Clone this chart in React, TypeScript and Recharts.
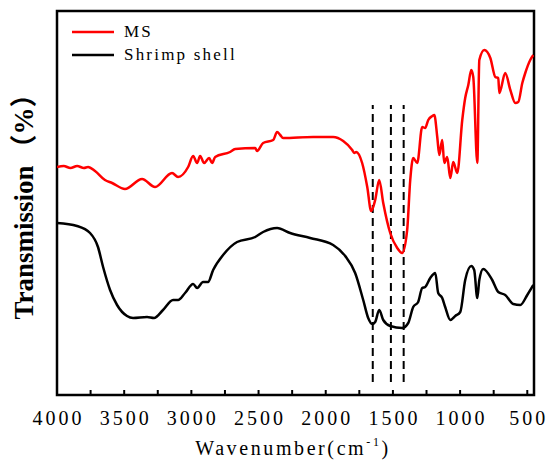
import { LineChart, Line, XAxis, YAxis, ReferenceLine, ReferenceArea, Legend } from 'recharts';

// [wavenumber (cm-1), transmission (arb. units)]
const msSpectrum: [number, number][] = [
  [4000, 228], [3950, 229], [3900, 227], [3850, 229], [3800, 227], [3769, 228],
  [3717, 224], [3643, 215], [3590, 212], [3494, 206], [3367, 216], [3270, 208],
  [3144, 222], [3099, 218], [3024, 228], [2987, 239], [2957, 232], [2935, 239],
  [2905, 232], [2868, 237], [2846, 232], [2823, 238], [2712, 243], [2674, 246],
  [2525, 247], [2511, 244], [2466, 252], [2391, 255], [2362, 263], [2339, 260],
  [2317, 257], [2094, 258], [1945, 258], [1870, 254], [1803, 245], [1788, 242],
  [1773, 243], [1729, 232], [1691, 208], [1662, 184], [1632, 195], [1602, 215],
  [1572, 192], [1520, 162], [1468, 147], [1431, 142], [1394, 165], [1371, 215],
  [1349, 237], [1319, 232], [1282, 268], [1260, 267], [1237, 275], [1207, 279],
  [1192, 280], [1170, 258], [1155, 240], [1133, 255], [1118, 232], [1096, 238],
  [1073, 217], [1051, 233], [1021, 222], [984, 275], [962, 297], [939, 310],
  [917, 325], [902, 318], [872, 232], [857, 335], [820, 345], [775, 337],
  [738, 318], [716, 317], [708, 302], [664, 322], [626, 305], [589, 292],
  [567, 293], [537, 312], [515, 322], [478, 335], [455, 340],
];

const shellSpectrum: [number, number][] = [
  [4000, 172], [3851, 169], [3754, 162], [3695, 148], [3657, 128], [3605, 105],
  [3553, 90], [3479, 79], [3434, 77], [3330, 78], [3278, 77], [3211, 85],
  [3136, 95], [3099, 95], [3047, 102], [2987, 111], [2957, 107], [2913, 113],
  [2876, 113], [2838, 125], [2764, 140], [2660, 153], [2525, 158], [2466, 163],
  [2362, 167], [2265, 162], [2116, 157], [1945, 150], [1855, 139], [1781, 122],
  [1721, 95], [1684, 77], [1654, 71], [1632, 73], [1602, 85], [1572, 75],
  [1520, 69], [1431, 67], [1386, 72], [1349, 88], [1312, 93], [1282, 107],
  [1260, 108], [1222, 117], [1185, 122], [1163, 102], [1133, 97], [1111, 88],
  [1073, 75], [1036, 79], [999, 83], [962, 115], [917, 129], [895, 125],
  [872, 97], [857, 115], [828, 126], [761, 115], [716, 103], [664, 100],
  [604, 91], [552, 90], [500, 100], [455, 110],
];

const markerLines = [1650, 1515, 1420];
const markerRange = [13, 290];

const xTicks = [4000, 3750, 3500, 3250, 3000, 2750, 2500, 2250, 2000, 1750, 1500, 1250, 1000, 750, 500];

const toRows = (s: [number, number][]) => s.map(([wn, t]) => ({ wn, t }));

const SERIF = "Liberation Serif, Times New Roman, DejaVu Serif, serif";
const CJK = "Noto Sans CJK SC, sans-serif";

const WnTick = (props: any) => {
  const { x, y, payload } = props;
  const v = payload.value;
  return (
    <g>
      <line x1={x} x2={x} y1={y} y2={y - 5} stroke="#000" strokeWidth={2} />
      {v % 500 === 0 && (
        <text x={x + 1.5} y={y + 30} textAnchor="middle" style={{ fontFamily: SERIF }} fontSize={20} letterSpacing={3} fill="#000">
          {v}
        </text>
      )}
    </g>
  );
};

// axis titles drawn from the x-axis label slot
const AxisTitles = () => (
  <g>
    <text x={293} y={455} textAnchor="middle" style={{ fontFamily: SERIF }} fontSize={20} letterSpacing={2.6} fill="#000">
      Wavenumber(cm
      <tspan fontSize={12} dy={-9}>-1</tspan>
      <tspan dy={9}>)</tspan>
    </text>
    <text
      x={33}
      y={200}
      transform="rotate(-90 33 200)"
      textAnchor="middle"
      style={{ fontFamily: SERIF }}
      fontWeight="bold"
      fontSize={27}
      fill="#000"
    >
      Transmission
      <tspan dx={4} style={{ fontFamily: CJK }}>（</tspan>%<tspan style={{ fontFamily: CJK }}>）</tspan>
    </text>
  </g>
);

const LegendBox = (props: any) => (
  <div style={{ fontFamily: SERIF, fontSize: 17, letterSpacing: 2.2, color: '#000' }}>
    {(props.payload || []).map((p: any) => (
      <div key={p.value} style={{ display: 'flex', alignItems: 'center', height: 23 }}>
        <svg width={42} height={4}>
          <line x1={0} x2={42} y1={2} y2={2} stroke={p.color} strokeWidth={2.5} />
        </svg>
        <span style={{ marginLeft: 10 }}>{p.value}</span>
      </div>
    ))}
  </div>
);

export default function App() {
  return (
    <div style={{ position: 'absolute', left: 0, top: 0, width: 550, height: 467, background: '#fff' }}>
      <LineChart width={550} height={467} margin={{ top: 11, right: 16, bottom: 42, left: 57 }}>
        <XAxis
          type="number"
          dataKey="wn"
          domain={[450, 4000]}
          reversed
          ticks={xTicks}
          interval={0}
          height={30}
          tickSize={0}
          tickMargin={0}
          tickLine={false}
          axisLine={false}
          tick={<WnTick />}
          allowDataOverflow
          label={<AxisTitles />}
        />
        <YAxis type="number" domain={[0, 384]} width={0} tick={false} tickLine={false} axisLine={false} allowDataOverflow />
        <ReferenceArea x1={4000} x2={450} y1={0} y2={384} fill="none" stroke="#000" strokeWidth={2.5} ifOverflow="visible" />
        {markerLines.map((wn) => (
          <ReferenceLine
            key={wn}
            segment={[{ x: wn, y: markerRange[0] }, { x: wn, y: markerRange[1] }]}
            stroke="#000"
            strokeWidth={2}
            strokeDasharray="8 5"
          />
        ))}
        <Line data={toRows(msSpectrum)} dataKey="t" name="MS" type="monotone" stroke="#ff0000" strokeWidth={2.5} dot={false} isAnimationActive={false} />
        <Line data={toRows(shellSpectrum)} dataKey="t" name="Shrimp shell" type="monotone" stroke="#000" strokeWidth={2.5} dot={false} isAnimationActive={false} />
        <Legend
          layout="vertical"
          align="center"
          verticalAlign="middle"
          content={<LegendBox />}
          wrapperStyle={{ top: 20, left: 72, width: 200 }}
        />
      </LineChart>
    </div>
  );
}
